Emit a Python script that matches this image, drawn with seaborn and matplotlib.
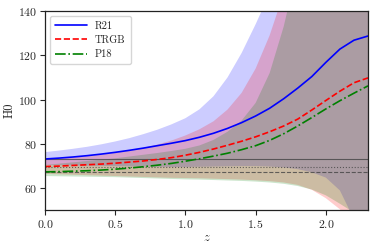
import numpy as np
import pandas as pd
import matplotlib
matplotlib.use("Agg")
import matplotlib.pyplot as plt
import seaborn as sns

# redshift grid
z = [0.0, 0.1, 0.2, 0.3, 0.4, 0.5, 0.6, 0.7, 0.8, 0.9, 1.0, 1.1,
     1.2, 1.3, 1.4, 1.5, 1.6, 1.7, 1.8, 1.9, 2.0, 2.1, 2.2, 2.3]

# median reconstructions
r21 = [73.2, 73.6, 74.1, 74.7, 75.4, 76.2, 77.1, 78.1, 79.2, 80.3, 81.5, 83.0,
       84.8, 87.0, 89.6, 92.6, 96.1, 100.4, 105.2, 110.4, 116.8, 122.8, 126.8, 128.7]
trgb = [69.8, 70.0, 70.3, 70.6, 70.9, 71.3, 71.8, 72.3, 73.0, 73.8, 74.9, 76.2,
        77.7, 79.4, 81.2, 83.2, 85.5, 88.1, 91.2, 95.3, 99.6, 103.8, 107.6, 109.8]
p18 = [67.4, 67.5, 67.7, 67.9, 68.2, 68.6, 69.1, 69.7, 70.4, 71.2, 72.2, 73.3,
       74.5, 75.8, 77.4, 79.2, 81.6, 84.6, 88.1, 91.9, 95.8, 99.5, 102.9, 106.2]

# confidence bands
r21_hi = [76.3, 77.0, 77.8, 78.7, 79.8, 81.1, 82.6, 84.4, 86.4, 88.8, 91.6, 95.6,
          101.5, 110.0, 121.0, 134.0, 148.0, 164.0, 182.0, 202.0, 222.0, 242.0, 262.0, 282.0]
r21_lo = [70.5, 70.4, 70.3, 70.2, 70.1, 70.0, 69.9, 69.8, 69.7, 69.6, 69.6, 69.7,
          69.8, 69.9, 70.0, 70.0, 69.8, 69.4, 68.6, 67.2, 64.8, 59.0, 46.0, 30.0]
trgb_hi = [73.0, 73.4, 73.9, 74.5, 75.2, 76.0, 77.0, 78.2, 79.7, 81.5, 83.8, 86.6,
           90.2, 95.5, 103.0, 114.0, 129.0, 148.0, 170.0, 195.0, 220.0, 245.0, 270.0, 295.0]
trgb_lo = [66.5, 66.3, 66.1, 65.9, 65.7, 65.5, 65.3, 65.1, 64.9, 64.7, 64.6, 64.5,
           64.3, 64.1, 63.9, 63.6, 63.2, 62.6, 61.5, 59.3, 55.5, 50.5, 44.0, 35.0]
p18_hi = [70.5, 71.1, 71.7, 72.3, 72.9, 73.5, 74.3, 75.1, 75.9, 76.8, 77.8, 79.3,
          81.8, 85.5, 90.5, 98.5, 112.0, 133.0, 160.0, 190.0, 220.0, 250.0, 280.0, 310.0]
p18_lo = [65.5, 65.4, 65.3, 65.2, 65.1, 65.0, 64.8, 64.6, 64.4, 64.2, 64.0, 63.9,
          63.7, 63.5, 63.3, 63.0, 62.6, 62.0, 61.0, 59.4, 56.8, 53.0, 49.0, 40.0]

# reference H0 values
h0_refs = [73.2, 69.8, 67.4]
ref_styles = ["-", ":", "--"]

labels = ["R21", "TRGB", "P18"]
colors = ["#0000ff", "#ff0000", "#008000"]
styles = ["-", "--", "-."]

sns.set_theme(style="ticks")
plt.rcParams["font.family"] = ["cmr10", "DejaVu Serif"]
plt.rcParams["mathtext.fontset"] = "cm"
plt.rcParams["axes.formatter.use_mathtext"] = True

fig = plt.figure(figsize=(3.74, 2.49), dpi=100)
ax = fig.add_axes([0.120, 0.155, 0.864, 0.801])

df = pd.DataFrame({"z": z, "R21": r21, "TRGB": trgb, "P18": p18})
bands = [(r21_lo, r21_hi), (trgb_lo, trgb_hi), (p18_lo, p18_hi)]

for (lo, hi), c in zip(bands, colors):
    ax.fill_between(z, lo, hi, color=c, alpha=0.2, linewidth=0)

for h, ls in zip(h0_refs, ref_styles):
    ax.axhline(h, color="#444444", lw=0.8, ls=ls, alpha=0.8)

for lab, c, ls in zip(labels, colors, styles):
    sns.lineplot(data=df, x="z", y=lab, color=c, linestyle=ls, lw=1.2,
                 label=lab, ax=ax)

ax.set_xlim(0, 2.3)
ax.set_ylim(50, 140)
ax.set_xticks([0.0, 0.5, 1.0, 1.5, 2.0])
ax.set_yticks([60, 80, 100, 120, 140])
ax.set_xlabel("$z$", fontsize=9, labelpad=1)
ax.set_ylabel("H0", fontsize=9, labelpad=2)
ax.tick_params(labelsize=8.5, length=3.5, width=0.8, pad=2, direction="out")
for s in ax.spines.values():
    s.set_linewidth(0.9)
    s.set_color("#222222")

leg = ax.legend(loc="upper left", fontsize=7.5, handlelength=3.0,
                frameon=True, framealpha=0.8, borderpad=0.5, labelspacing=0.45)
leg.get_frame().set_edgecolor("#cccccc")

fig.savefig("out.png", dpi=100)
